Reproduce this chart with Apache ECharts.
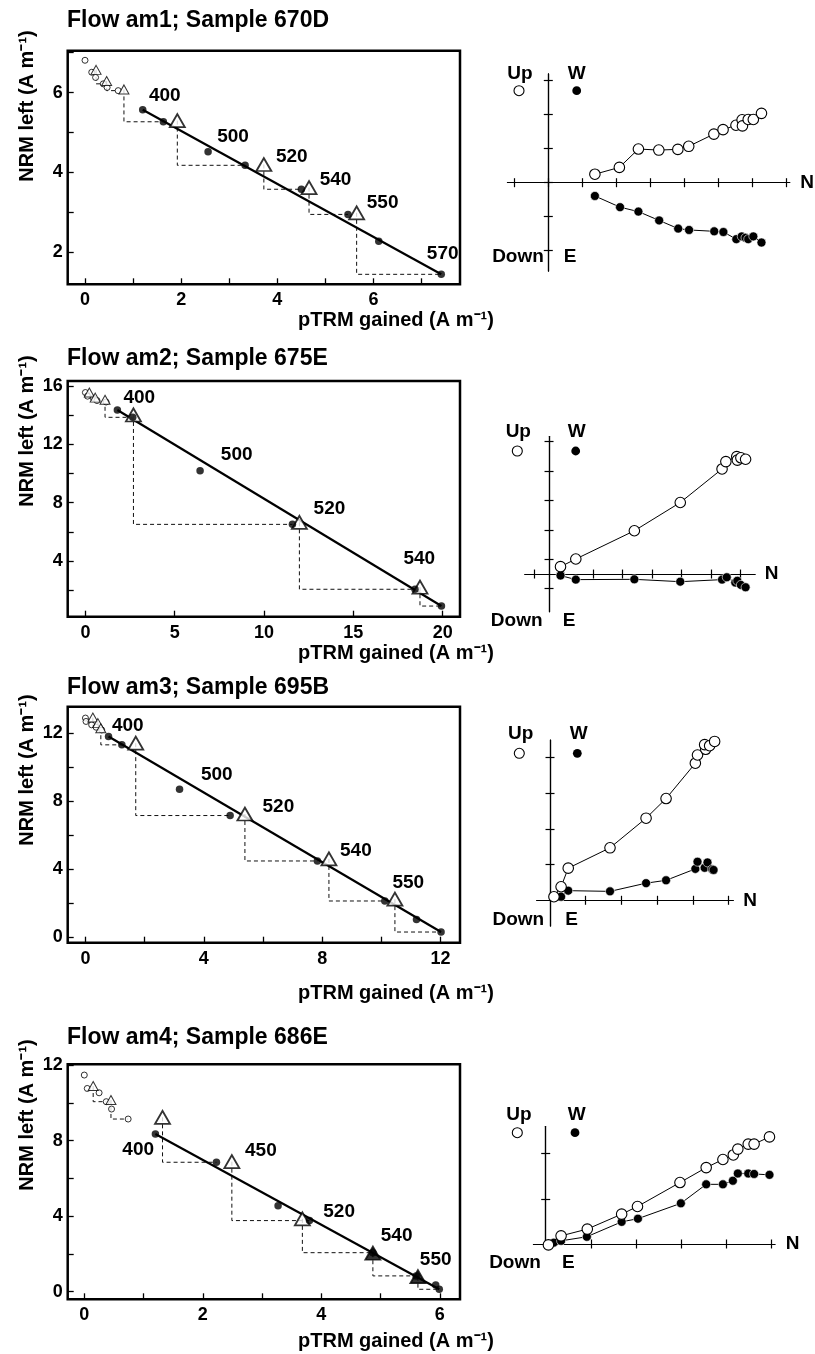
<!DOCTYPE html>
<html><head><meta charset="utf-8">
<script src="https://cdn.jsdelivr.net/npm/echarts@6/dist/echarts.min.js"></script>
<style>html,body{margin:0;padding:0;background:#fff}#c{width:815px;height:1354px}</style>
</head><body><div id="c"></div><script>
// ---------------- DATA ----------------
// Arai plots: [pTRM gained, NRM left]
const am1Points = [[1.20,5.57],[1.63,5.27],[2.56,4.52],[3.33,4.18],[4.50,3.58],[5.47,2.95],[6.11,2.28],[7.41,1.45]];
const am1LowT = [[0,6.81],[0.14,6.51],[0.22,6.38],[0.38,6.22],[0.46,6.13],[0.69,6.05]];
const am1LowChecks = [[0.23,6.57],[0.45,6.29],[0.81,6.08]];
const am1LowTargets = [[0.38,6.22],[0.69,6.05],[1.63,5.27]];
const am1Checks = [[1.92,5.30],[3.72,4.20],[4.66,3.62],[5.65,2.99]];
const am1Targets = [[3.33,4.18],[4.50,3.58],[5.47,2.95],[7.41,1.45]];
const am1FilledChecks = [];
const am1FilledTargets = [];
const am1Fit = [[1.20,5.57],[7.41,1.45]];
const am1Temps = [[1.66,5.92,'400'],[3.08,4.90,'500'],[4.30,4.40,'520'],[5.21,3.83,'540'],[6.19,3.24,'550'],[7.44,1.97,'570']];

const am2Points = [[1.79,14.35],[2.65,13.85],[6.42,10.19],[11.59,6.51],[18.45,2.06],[19.93,0.91]];
const am2LowT = [[0,15.55],[0.12,15.3],[0.45,15.15],[0.65,15.0],[1.16,14.9]];
const am2LowChecks = [[0.22,15.55],[0.55,15.2],[1.10,15.05]];
const am2LowTargets = [[0.45,15.15],[0.65,15.0],[2.65,13.85]];
const am2Checks = [[2.69,14.01],[11.98,6.65],[18.73,2.20]];
const am2Targets = [[11.59,6.51],[18.45,2.06],[19.93,0.91]];
const am2FilledChecks = [];
const am2FilledTargets = [];
const am2Fit = [[1.79,14.35],[19.93,0.91]];
const am2Temps = [[3.02,15.2,'400'],[8.47,11.31,'500'],[13.66,7.61,'520'],[18.69,4.18,'540']];

const am3Points = [[0.78,11.81],[1.23,11.32],[3.18,8.70],[4.89,7.15],[7.84,4.47],[10.12,2.11],[11.19,1.02],[12.02,0.28]];
const am3LowT = [[0,12.9],[0.02,12.7],[0.21,12.5],[0.36,12.36],[0.55,12.2]];
const am3LowChecks = [[0.25,12.93],[0.42,12.6],[0.52,12.3]];
const am3LowTargets = [[0.36,12.36],[0.55,12.2],[1.23,11.32]];
const am3Checks = [[1.70,11.42],[5.39,7.24],[8.23,4.59],[10.46,2.22]];
const am3Targets = [[4.89,7.15],[7.84,4.47],[10.12,2.11],[12.02,0.28]];
const am3FilledChecks = [];
const am3FilledTargets = [];
const am3Fit = [[0.78,11.81],[12.02,0.28]];
const am3Temps = [[1.43,12.44,'400'],[4.44,9.55,'500'],[6.52,7.68,'520'],[9.14,5.08,'540'],[10.91,3.19,'550']];

const am4Points = [[1.20,8.35],[2.23,6.85],[3.27,4.55],[3.80,3.76],[4.87,2.06],[5.60,0.83],[5.93,0.35],[5.99,0.12]];
const am4LowT = [[0,11.47],[0.05,10.76],[0.25,10.53],[0.37,10.06],[0.46,9.67],[0.74,9.14]];
const am4LowChecks = [[0.15,10.89],[0.45,10.15]];
const am4LowTargets = [[0.37,10.06],[0.74,9.14]];
const am4Checks = [[1.32,9.23],[2.49,6.88],[3.68,3.85]];
const am4Targets = [[2.23,6.85],[3.80,3.76],[4.87,2.06]];
const am4FilledChecks = [[4.87,2.03],[5.63,0.79]];
const am4FilledTargets = [[5.60,0.83],[5.99,0.12]];
const am4Fit = [[1.20,8.35],[5.99,0.12]];
const am4Temps = [[0.91,7.53,'400'],[2.98,7.46,'450'],[4.30,4.24,'520'],[5.27,2.95,'540'],[5.93,1.71,'550']];

// Arai axis ticks / labels
const a1XTicks = [0,1,2,3,4,5,6,7], a1XLabels = [0,2,4,6], a1YTicks = [2,3,4,5,6,7], a1YLabels = [2,4,6];
const a2XTicks = [0,5,10,15,20], a2XLabels = [0,5,10,15,20], a2YTicks = [2,4,6,8,10,12,14,16], a2YLabels = [4,8,12,16];
const a3XTicks = [0,2,4,6,8,10,12], a3XLabels = [0,4,8,12], a3YTicks = [0,2,4,6,8,10,12], a3YLabels = [0,4,8,12];
const a4XTicks = [0,1,2,3,4,5,6], a4XLabels = [0,2,4,6], a4YTicks = [0,2,4,6,8,10,12], a4YLabels = [0,4,8,12];

// Zijderveld plots: [N, Up] open (vertical) and [N, W] filled (horizontal)
const z1Vert = [[1.37,0.25],[2.09,0.45],[2.65,0.99],[3.25,0.96],[3.81,0.98],[4.13,1.07],[4.87,1.43],[5.14,1.56],[5.52,1.69],[5.70,1.85],[5.71,1.67],[5.88,1.86],[6.03,1.86],[6.27,2.04]];
const z1Horiz = [[1.37,-0.39],[2.11,-0.72],[2.65,-0.85],[3.26,-1.11],[3.82,-1.35],[4.14,-1.39],[4.88,-1.43],[5.15,-1.45],[5.53,-1.66],[5.69,-1.58],[5.80,-1.62],[5.88,-1.66],[6.03,-1.58],[6.27,-1.76]];
const z2Vert = [[0.39,0.25],[0.91,0.51],[2.90,1.47],[4.46,2.43],[5.88,3.57],[6.01,3.82],[6.38,3.99],[6.40,3.87],[6.52,3.95],[6.68,3.90]];
const z2Horiz = [[0.39,-0.05],[0.91,-0.19],[2.90,-0.18],[4.46,-0.26],[5.88,-0.19],[6.04,-0.11],[6.33,-0.29],[6.40,-0.23],[6.52,-0.37],[6.68,-0.45]];
const z3Vert = [[0.11,0.10],[0.31,0.38],[0.51,0.90],[1.68,1.47],[2.69,2.30],[3.25,2.85],[4.07,3.84],[4.13,4.07],[4.36,4.23],[4.33,4.36],[4.47,4.33],[4.61,4.45]];
const z3Horiz = [[0.31,0.10],[0.51,0.27],[1.68,0.25],[2.69,0.48],[3.25,0.56],[4.07,0.88],[4.13,1.08],[4.33,0.91],[4.41,1.06],[4.54,0.87],[4.58,0.85]];
const z4Vert = [[0.06,-0.02],[0.34,0.18],[0.92,0.33],[1.68,0.66],[2.03,0.83],[2.97,1.36],[3.55,1.69],[3.92,1.87],[4.15,1.97],[4.25,2.10],[4.48,2.21],[4.61,2.21],[4.95,2.37]];
const z4Horiz = [[0.18,0.03],[0.34,0.07],[0.91,0.16],[1.68,0.49],[2.04,0.56],[2.99,0.90],[3.55,1.32],[3.92,1.32],[4.14,1.40],[4.25,1.56],[4.48,1.56],[4.61,1.55],[4.95,1.53]];
const z1XTicks = [-1,0,1,2,3,4,5,6,7], z1YTicks = [-2,-1,0,1,2,3];
const z2XTicks = [-0.5,0.5,1.5,2.5,3.5,4.5,5.5,6.5], z2YTicks = [-0.5,0.5,1.5,2.5,3.5,4.5];
const z3XTicks = [1,2,3,4,5], z3YTicks = [1,2,3,4];
const z4XTicks = [1,2,3,4,5], z4YTicks = [1,2];

const titles = ['Flow am1; Sample 670D','Flow am2; Sample 675E','Flow am3; Sample 695B','Flow am4; Sample 686E'];
const xName = 'pTRM gained (A m\u207B\u00B9)';
const yName = 'NRM left (A m\u207B\u00B9)';

// ---------------- LAYOUT ----------------
const FONT = '"Liberation Sans", Arial, Helvetica, sans-serif';
const arai = [
  {grid:{left:67.7,top:50.7,width:392.3,height:233.6}, x:[-0.36,7.80], y:[1.2,7.05], xt:a1XTicks, xl:a1XLabels, yt:a1YTicks, yl:a1YLabels,
   pts:am1Points, low:am1LowT, lowC:am1LowChecks, lowT:am1LowTargets, chk:am1Checks, chkT:am1Targets, fchk:am1FilledChecks, fchkT:am1FilledTargets, fit:am1Fit, temps:am1Temps,
   titleY:21, yNameY:106, xNameY:320},
  {grid:{left:67.7,top:381,width:392.3,height:235.7}, x:[-0.99,20.97], y:[0.18,16.34], xt:a2XTicks, xl:a2XLabels, yt:a2YTicks, yl:a2YLabels,
   pts:am2Points, low:am2LowT, lowC:am2LowChecks, lowT:am2LowTargets, chk:am2Checks, chkT:am2Targets, fchk:am2FilledChecks, fchkT:am2FilledTargets, fit:am2Fit, temps:am2Temps,
   titleY:359, yNameY:431, xNameY:653},
  {grid:{left:67.7,top:706.7,width:392.3,height:236}, x:[-0.6,12.66], y:[-0.35,13.57], xt:a3XTicks, xl:a3XLabels, yt:a3YTicks, yl:a3YLabels,
   pts:am3Points, low:am3LowT, lowC:am3LowChecks, lowT:am3LowTargets, chk:am3Checks, chkT:am3Targets, fchk:am3FilledChecks, fchkT:am3FilledTargets, fit:am3Fit, temps:am3Temps,
   titleY:688, yNameY:770, xNameY:993},
  {grid:{left:67.7,top:1064.3,width:392.3,height:235}, x:[-0.28,6.34], y:[-0.41,12.04], xt:a4XTicks, xl:a4XLabels, yt:a4YTicks, yl:a4YLabels,
   pts:am4Points, low:am4LowT, lowC:am4LowChecks, lowT:am4LowTargets, chk:am4Checks, chkT:am4Targets, fchk:am4FilledChecks, fchkT:am4FilledTargets, fit:am4Fit, temps:am4Temps,
   titleY:1037.5, yNameY:1115, xNameY:1341}
];
const zij = [
  {grid:{left:507.5,top:73.9,width:282.2,height:197.2}, x:[-1.2,7.1], y:[-2.6,3.2], xt:z1XTicks, yt:z1YTicks, v:z1Vert, h:z1Horiz,
   up:[520,73.3], w:[576.7,73.3], oc:[519,90.7], fc:[576.7,90.7], down:[518,256.7], e:[570,256.7], n:[807,182.7]},
  {grid:{left:524.9,top:436.6,width:230.1,height:175.1}, x:[-0.82,7.0], y:[-1.28,4.67], xt:z2XTicks, yt:z2YTicks, v:z2Vert, h:z2Horiz,
   up:[518.3,431.7], w:[576.7,431.7], oc:[517.3,451], fc:[575.7,451], down:[516.7,621], e:[569,621], n:[771.7,574]},
  {grid:{left:536.8,top:740.0,width:196.4,height:186.0}, x:[-0.37,5.13], y:[-0.72,4.49], xt:z3XTicks, yt:z3YTicks, v:z3Vert, h:z3Horiz,
   up:[520.7,734], w:[578.7,734], oc:[519.3,753.3], fc:[577.3,753.3], down:[518.3,919.3], e:[571.7,919.3], n:[750,901]},
  {grid:{left:533.5,top:1126.5,width:241.4,height:120.2}, x:[-0.27,5.07], y:[-0.06,2.6], xt:z4XTicks, yt:z4YTicks, v:z4Vert, h:z4Horiz,
   up:[519,1115], w:[576.7,1115], oc:[517.3,1132.7], fc:[575,1132.7], down:[515,1262.7], e:[568.3,1262.7], n:[792.7,1244]}
];

const grids = [], xAxes = [], yAxes = [], series = [], graphics = [];
const tickStyle = {color:'#000', width:1.3};
const lblStyle = (vals, margin) => ({show:true, customValues: vals, fontSize:18, fontWeight:'bold', color:'#000', fontFamily:FONT, margin: margin});

function txt(t, x, y, size, align, rot) {
  const el = {type:'text', x:x, y:y, z:100, silent:true,
    style:{text:t, fill:'#000', font:'bold ' + size + 'px ' + FONT,
      textAlign: align || 'center', align: align || 'center', textVerticalAlign:'middle', verticalAlign:'middle'}};
  if (rot) el.rotation = rot;
  return el;
}

arai.forEach((a, i) => {
  grids.push(Object.assign({show:true, borderColor:'#000', borderWidth:2.5, backgroundColor:'transparent', containLabel:false, outerBoundsMode:'none'}, a.grid));
  xAxes.push({gridIndex:i, type:'value', min:a.x[0], max:a.x[1], position:'bottom',
    axisLine:{show:false, onZero:false}, splitLine:{show:false},
    axisTick:{show:true, inside:true, length:6, customValues:a.xt, lineStyle:tickStyle},
    axisLabel: lblStyle(a.xl, 7)});
  yAxes.push({gridIndex:i, type:'value', min:a.y[0], max:a.y[1], position:'left',
    axisLine:{show:false, onZero:false}, splitLine:{show:false},
    axisTick:{show:true, inside:true, length:6, customValues:a.yt, lineStyle:tickStyle},
    axisLabel: lblStyle(a.yl, 5)});
  const ax = {xAxisIndex:i, yAxisIndex:i};
  const dash = (c, t) => c.forEach((p, k) => {
    series.push(Object.assign({type:'line', data:[[p[0],p[1]],[p[0],t[k][1]],[t[k][0],t[k][1]]], symbol:'none', silent:true, z:1,
      lineStyle:{color:'#111', width:1, type:[4,3]}}, ax));
  });
  dash(a.lowC, a.lowT); dash(a.chk, a.chkT); dash(a.fchk, a.fchkT);
  series.push(Object.assign({type:'line', data:a.fit, symbol:'none', z:2, lineStyle:{color:'#000', width:2.2}}, ax));
  series.push(Object.assign({type:'scatter', data:a.low, symbol:'circle', symbolSize:6, z:3,
    itemStyle:{color:'#fff', borderColor:'#000', borderWidth:1}}, ax));
  series.push(Object.assign({type:'scatter', data:a.lowC, symbol:'triangle', symbolSize:[10,9], z:4,
    itemStyle:{color:'#fff', borderColor:'#000', borderWidth:1}}, ax));
  series.push(Object.assign({type:'scatter', data:a.chk, symbol:'triangle', symbolSize:[15,13], z:4,
    itemStyle:{color:'#fff', borderColor:'#000', borderWidth:1.8}}, ax));
  series.push(Object.assign({type:'scatter', data:a.fchk, symbol:'triangle', symbolSize:[15,13], z:4,
    itemStyle:{color:'#000', borderColor:'#000', borderWidth:1.8}}, ax));
  series.push(Object.assign({type:'scatter', data:a.pts, symbol:'circle', symbolSize:7.5, z:5,
    itemStyle:{color:'#000'}}, ax));
  const temps = a.temps;
  series.push(Object.assign({type:'custom', data:temps.map(t => [t[0], t[1]]), encode:{x:0, y:1}, z:6, silent:true,
    renderItem: (params, api) => {
      const p = api.coord([api.value(0), api.value(1)]);
      return {type:'text', x:p[0], y:p[1], style:{text:String(temps[params.dataIndex][2]), fill:'#000',
        font:'bold 19px ' + FONT, textAlign:'center', align:'center', textVerticalAlign:'middle', verticalAlign:'middle'}};
    }}, ax));
  graphics.push(txt(titles[i], 67, a.titleY, 23, 'left'));
  graphics.push(txt(yName, 27, a.yNameY, 20, 'center', Math.PI/2));
  graphics.push(txt(xName, 298, a.xNameY, 20, 'left'));
});

zij.forEach((z, i) => {
  const g = 4 + i;
  grids.push(Object.assign({show:false, containLabel:false, outerBoundsMode:'none'}, z.grid));
  const lineS = {color:'#000', width:1.2};
  ['bottom','top'].forEach(pos => xAxes.push({gridIndex:g, type:'value', min:z.x[0], max:z.x[1], position:pos,
    axisLine:{show:true, onZero:true, lineStyle:lineS}, splitLine:{show:false}, axisLabel:{show:false},
    axisTick:{show:true, inside:false, length:4.5, customValues:z.xt, lineStyle:lineS}}));
  ['left','right'].forEach(pos => yAxes.push({gridIndex:g, type:'value', min:z.y[0], max:z.y[1], position:pos,
    axisLine:{show:true, onZero:true, lineStyle:lineS}, splitLine:{show:false}, axisLabel:{show:false},
    axisTick:{show:true, inside:false, length:4.5, customValues:z.yt, lineStyle:lineS}}));
  const xi = 4 + 2*i, yi = 4 + 2*i;
  series.push({type:'line', xAxisIndex:xi, yAxisIndex:yi, data:z.h, symbol:'circle', symbolSize:9, showSymbol:true, showAllSymbol:true, z:3,
    lineStyle:{color:'#000', width:1}, itemStyle:{color:'#000', borderColor:'#fff', borderWidth:0.6}});
  series.push({type:'line', xAxisIndex:xi, yAxisIndex:yi, data:z.v, symbol:'circle', symbolSize:10.5, showSymbol:true, showAllSymbol:true, z:4,
    lineStyle:{color:'#000', width:1}, itemStyle:{color:'#fff', borderColor:'#000', borderWidth:1.1}});
  graphics.push(txt('Up', z.up[0], z.up[1], 19));
  graphics.push(txt('W', z.w[0], z.w[1], 19));
  graphics.push(txt('Down', z.down[0], z.down[1], 19));
  graphics.push(txt('E', z.e[0], z.e[1], 19));
  graphics.push(txt('N', z.n[0], z.n[1], 19));
  graphics.push({type:'circle', z:100, silent:true, shape:{cx:z.oc[0], cy:z.oc[1], r:5}, style:{fill:'#fff', stroke:'#000', lineWidth:1.1}});
  graphics.push({type:'circle', z:100, silent:true, shape:{cx:z.fc[0], cy:z.fc[1], r:4.4}, style:{fill:'#000'}});
});

const chart = echarts.init(document.getElementById('c'), null, {renderer:'canvas'});
chart.setOption({
  animation:false, backgroundColor:'#fff',
  grid:grids, xAxis:xAxes, yAxis:yAxes, series:series, graphic:graphics
});
</script></body></html>
